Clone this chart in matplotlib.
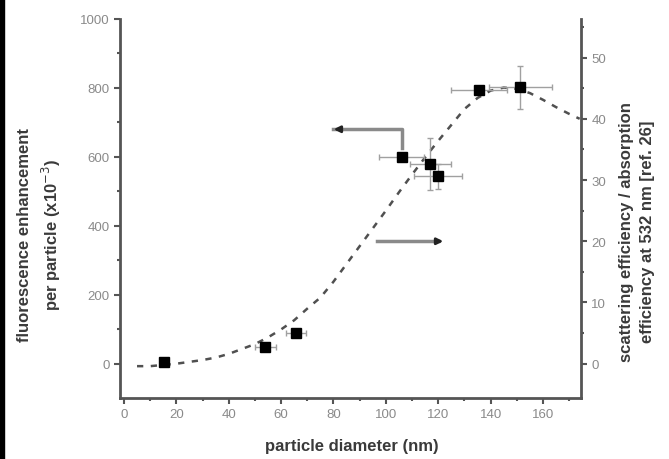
import matplotlib
matplotlib.use("Agg")
import matplotlib.pyplot as plt
from matplotlib.patches import Rectangle

# --- data ---
diameter = [15.3, 53.9, 65.7, 106.0, 116.9, 119.9, 135.6, 151.3]
diameter_err = [1.0, 4.0, 4.0, 8.5, 7.8, 9.3, 10.6, 12.0]
enhancement = [3.5, 48, 88, 600, 579, 543, 795, 802]
enhancement_err = [4, 8, 8, 12, 75, 37, 10, 63]

curve_x = [5, 10, 15, 20, 25, 30, 35, 40, 45, 50, 55, 60, 65, 70, 75, 80, 85,
           90, 95, 100, 105, 110, 115, 120, 125, 130, 135, 140, 145, 150, 155,
           160, 165, 170, 174]
curve_y = [-0.4, -0.4, -0.2, 0.0, 0.3, 0.6, 1.0, 1.6, 2.4, 3.2, 4.3, 5.6, 7.1,
           9.0, 10.8, 13.4, 16.3, 19.2, 22.1, 25.0, 28.0, 30.9, 33.7, 36.4,
           39.0, 41.6, 43.4, 44.6, 45.1, 44.9, 44.2, 43.1, 41.9, 40.8, 40.0]

x_ticks = [0, 20, 40, 60, 80, 100, 120, 140, 160]
left_ticks = [0, 200, 400, 600, 800, 1000]
right_ticks = [0, 10, 20, 30, 40, 50]

plt.rcParams['font.family'] = ['Liberation Sans', 'DejaVu Sans']

SPINE = '#555555'
TICKLBL = '#8a8a8a'
LABEL = '#3a3a3a'

fig = plt.figure(figsize=(6.69, 4.60), dpi=100)
fig.patch.set_facecolor('white')
fig.patches.append(Rectangle((0, 0), 4 / 669, 1, transform=fig.transFigure,
                             color='black', zorder=0))

ax = fig.add_axes([120 / 669, 1 - 399 / 460, (581 - 120) / 669, (399 - 20) / 460])
ax2 = ax.twinx()

ax.set_xlim(-1.5, 174.5)
ax.set_ylim(-100, 1000)
ax2.set_ylim(-5.6, 56.3)

# dashed curve on right axis
ax2.plot(curve_x, curve_y, ls=(0, (2.5, 3)), color='#505050', lw=1.8, zorder=2)

# data points on left axis
ax.errorbar(diameter, enhancement, xerr=diameter_err, yerr=enhancement_err,
            fmt='s', color='black', ms=7, ecolor='#a0a0a0', elinewidth=1,
            capsize=2, capthick=1, zorder=5)
ax.set_zorder(ax2.get_zorder() + 1)
ax.patch.set_visible(False)

# arrows
ax.plot([106, 106, 80], [625, 680, 680], color='#8a8a8a', lw=2.5,
        solid_joinstyle='round', zorder=3)
ax.annotate('', xy=(79, 680), xytext=(84, 680),
            arrowprops=dict(arrowstyle='-|>', color='#222222', lw=2,
                            mutation_scale=9), zorder=4)
ax2.plot([96.6, 120], [20, 20], color='#8a8a8a', lw=2.5, zorder=3)
ax2.annotate('', xy=(123, 20), xytext=(118, 20),
             arrowprops=dict(arrowstyle='-|>', color='#222222', lw=2,
                             mutation_scale=9), zorder=4)

# ticks
ax.set_xticks(x_ticks)
ax.set_xticks([t + 10 for t in x_ticks], minor=True)
ax.set_yticks(left_ticks)
ax.set_yticks([t - 100 for t in left_ticks[1:]], minor=True)
ax2.set_yticks(right_ticks)
ax2.set_yticks([t + 5 for t in right_ticks], minor=True)

for a in (ax, ax2):
    for s in a.spines.values():
        s.set_color(SPINE)
        s.set_linewidth(2)
    a.tick_params(which='both', direction='out', color=SPINE, width=1.5,
                  labelcolor=TICKLBL, labelsize=9.5)
    a.tick_params(which='major', length=4)
    a.tick_params(which='minor', length=2.5)
ax.spines['top'].set_visible(False)
ax2.spines['top'].set_visible(False)
ax2.spines['left'].set_visible(False)
ax2.spines['bottom'].set_visible(False)
ax.spines['right'].set_visible(False)

fig.text((265 + 439) / 2 / 669, 1 - 447 / 460, 'particle diameter (nm)',
         ha='center', va='center', fontsize=12, fontweight='bold', color=LABEL)

fig.text(40 / 669, 1 - 235 / 460,
         'fluorescence enhancement\nper particle (x10$^{-3}$)',
         rotation=90, ha='center', va='center', fontsize=12,
         fontweight='bold', color=LABEL, linespacing=1.45)
fig.text(637 / 669, 1 - 232 / 460,
         'scattering efficiency / absorption\nefficiency at 532 nm [ref. 26]',
         rotation=90, ha='center', va='center', fontsize=12,
         fontweight='bold', color=LABEL, linespacing=1.45)

fig.savefig('out.png', dpi=100)
